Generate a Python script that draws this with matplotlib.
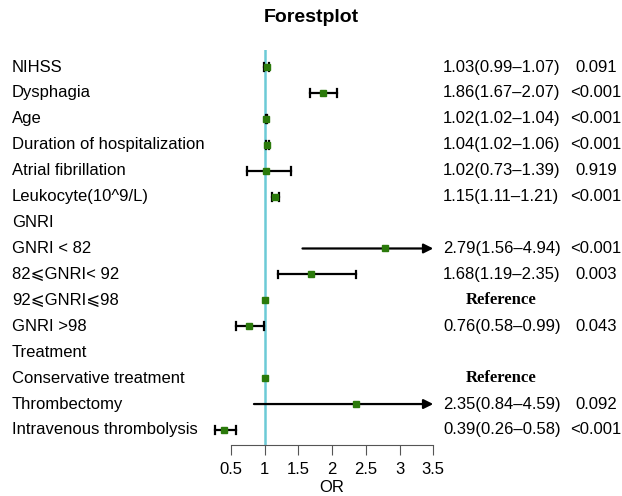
import matplotlib.pyplot as plt
from matplotlib.transforms import blended_transform_factory

plt.rcParams['font.family'] = ['Liberation Sans', 'DejaVu Sans']

# rows of the forest plot (top to bottom)
labels = ["NIHSS", "Dysphagia", "Age", "Duration of hospitalization",
          "Atrial fibrillation", "Leukocyte(10^9/L)", "GNRI",
          "GNRI < 82", "82⩽GNRI< 92", "92⩽GNRI⩽98", "GNRI >98",
          "Treatment", "Conservative treatment", "Thrombectomy",
          "Intravenous thrombolysis"]
# None = header row
odds = [1.03, 1.86, 1.02, 1.04, 1.02, 1.15, None,
        2.79, 1.68, 1.00, 0.76, None, 1.00, 2.35, 0.39]
lower = [0.99, 1.67, 1.02, 1.02, 0.73, 1.11, None,
         1.56, 1.19, None, 0.58, None, None, 0.84, 0.26]
upper = [1.07, 2.07, 1.04, 1.06, 1.39, 1.21, None,
         4.94, 2.35, None, 0.99, None, None, 4.59, 0.58]
or_text = ["1.03(0.99\u20131.07)", "1.86(1.67\u20132.07)", "1.02(1.02\u20131.04)",
           "1.04(1.02\u20131.06)", "1.02(0.73\u20131.39)", "1.15(1.11\u20131.21)", "",
           "2.79(1.56\u20134.94)", "1.68(1.19\u20132.35)", "Reference",
           "0.76(0.58\u20130.99)", "", "Reference", "2.35(0.84\u20134.59)",
           "0.39(0.26\u20130.58)"]
p_text = ["0.091", "<0.001", "<0.001", "<0.001", "0.919", "<0.001", "",
          "<0.001", "0.003", "", "0.043", "", "", "0.092", "<0.001"]
ticks = [0.5, 1, 1.5, 2, 2.5, 3, 3.5]

W, H = 622, 496
fig = plt.figure(figsize=(W / 100, H / 100), dpi=100)
# axes spans the forest part only; bottom edge = axis line
ax = fig.add_axes([205 / W, 1 - 445 / H, 235 / W, (445 - 50) / H])
ax.set_xlim(0.114, 3.6)
ax.set_ylim(14.58, -0.656)

green = "#2b7a0b"
xmax = ticks[-1]
for i, (o, lo, hi) in enumerate(zip(odds, lower, upper)):
    if o is None:
        continue
    if lo is not None:
        if hi > xmax:
            # CI runs off the scale -> arrow
            ax.annotate("", xy=(xmax, i), xytext=(lo, i),
                        arrowprops=dict(arrowstyle="-|>", color="black", lw=1.6,
                                        mutation_scale=14, shrinkA=0, shrinkB=0))
        else:
            ax.plot([lo, hi], [i, i], color="black", lw=1.6, zorder=3)
            ax.plot([lo, lo], [i - 0.15, i + 0.15], color="black", lw=1.6, zorder=3)
            ax.plot([hi, hi], [i - 0.15, i + 0.15], color="black", lw=1.6, zorder=3)
    ax.plot(o, i, marker="s", ms=4.8, color=green, mec=green, zorder=4)

ax.axvline(1, color="#6ccad6", lw=1.8, zorder=2)

for s in ["top", "right", "left"]:
    ax.spines[s].set_visible(False)
ax.spines["bottom"].set_bounds(0.5, 3.5)
ax.spines["bottom"].set_color("#555555")
ax.set_yticks([])
ax.set_xticks(ticks)
ax.set_xticklabels([f"{t:g}" for t in ticks])
ax.tick_params(axis="x", length=7, color="#555555", labelsize=12, pad=5)
ax.text(2, -43 / 395, "OR", transform=blended_transform_factory(ax.transData, ax.transAxes),
        ha="center", va="center", fontsize=12)

tr = blended_transform_factory(fig.transFigure, ax.transData)
for i, lab in enumerate(labels):
    ax.text(12 / W, i, lab, transform=tr, ha="left", va="center", fontsize=12,
            clip_on=False)
    if or_text[i] == "Reference":
        ax.text(501 / W, i, "Reference", transform=tr, ha="center", va="center",
                fontsize=12, fontweight="bold", family="Liberation Serif", clip_on=False)
    elif or_text[i]:
        ax.text(443 / W, i, or_text[i], transform=tr, ha="left", va="center",
                fontsize=12, clip_on=False)
    if p_text[i]:
        ax.text(596 / W, i, p_text[i], transform=tr, ha="center", va="center",
                fontsize=12, clip_on=False)

fig.text(0.5, 1 - 18 / H, "Forestplot", ha="center", va="center",
         fontsize=14, fontweight="bold")

fig.savefig("out.png", dpi=100)
